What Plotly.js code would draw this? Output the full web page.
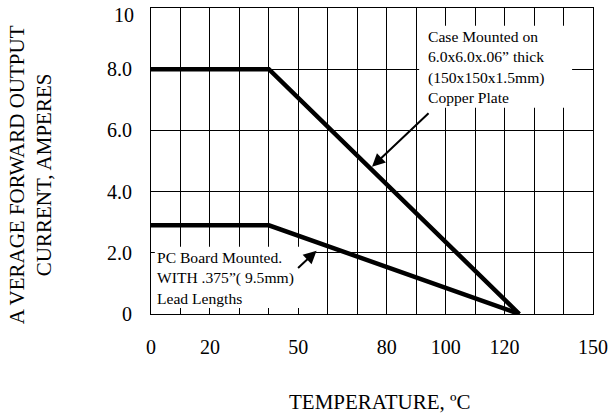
<!DOCTYPE html>
<html>
<head>
<meta charset="utf-8">
<script src="https://cdn.plot.ly/plotly-3.0.1.min.js"></script>
<style>html,body{margin:0;padding:0;background:#fff;}#chart{width:608px;height:415px;}</style>
</head>
<body>
<div id="chart"></div>
<script>
// Data
const caseX = [0, 40, 125];
const caseY = [8.0, 8.0, 0];
const pcX = [0, 40, 125];
const pcY = [2.9, 2.9, 0];

const xTickVals = [0, 20, 50, 80, 100, 120, 150];
const xTickText = ['0', '20', '50', '80', '100', '120', '150'];
const yTickVals = [0, 2, 4, 6, 8, 10];
const yTickText = ['0', '2.0', '4.0', '6.0', '8.0', ''];
const yTopLabel = '10';

const caseLabel = 'Case Mounted on<br>6.0x6.0x.06\u201D thick<br>(150x150x1.5mm)<br>Copper Plate';
const pcLabel = 'PC Board Mounted.<br>WITH .375\u201D( 9.5mm)<br>Lead Lengths';
const xTitle = 'TEMPERATURE, \u00BAC';
const yTitle = 'A VERAGE FORWARD OUTPUT<br>CURRENT, AMPERES';

const FONT = 'Liberation Serif, Times New Roman, serif';

const traces = [
  {x: caseX, y: caseY, mode: 'lines', line: {color: '#000', width: 4.5}, hoverinfo: 'skip'},
  {x: pcX, y: pcY, mode: 'lines', line: {color: '#000', width: 4.5}, hoverinfo: 'skip'}
];

const layout = {
  width: 608, height: 415,
  margin: {l: 151, r: 15, t: 8, b: 101, pad: 0},
  paper_bgcolor: '#fff', plot_bgcolor: '#fff',
  showlegend: false,
  font: {family: FONT, color: '#000', size: 20},
  xaxis: {
    range: [0, 150], tickmode: 'array', tickvals: xTickVals, ticktext: xTickText,
    showgrid: true, gridcolor: '#000', gridwidth: 1,
    minor: {dtick: 10, tick0: 0, showgrid: true, gridcolor: '#000', gridwidth: 1, ticks: ''},
    zeroline: false, showline: true, mirror: true, linecolor: '#000', linewidth: 1,
    ticks: 'outside', ticklen: 15, tickcolor: 'rgba(0,0,0,0)',
    tickfont: {family: FONT, size: 20, color: '#000'}, fixedrange: true
  },
  yaxis: {
    range: [0, 10], tickmode: 'array', tickvals: yTickVals, ticktext: yTickText,
    showgrid: true, gridcolor: '#000', gridwidth: 1,
    zeroline: false, showline: true, mirror: true, linecolor: '#000', linewidth: 1,
    ticks: 'outside', ticklen: 14, tickcolor: 'rgba(0,0,0,0)',
    tickfont: {family: FONT, size: 20, color: '#000'}, fixedrange: true
  },
  shapes: [
    {type: 'rect', xref: 'x', yref: 'y', x0: 91, x1: 142.9, y0: 6.74, y1: 9.42,
     fillcolor: '#fff', line: {width: 0}, layer: 'between'},
    {type: 'rect', xref: 'x', yref: 'y', x0: 1.3, x1: 56, y0: 0.2, y1: 2.2,
     fillcolor: '#fff', line: {width: 0}, layer: 'between'}
  ],
  annotations: [
    {text: yTopLabel, xref: 'paper', yref: 'y', x: 0, xshift: -16, y: 10, yshift: -7,
     xanchor: 'right', yanchor: 'middle', showarrow: false, borderpad: 0,
     font: {family: FONT, size: 20, color: '#000'}},
    {text: caseLabel, xref: 'x', yref: 'y', x: 93.5, y: 8.08, xanchor: 'left', yanchor: 'middle',
     align: 'left', showarrow: false, borderpad: 0, font: {family: FONT, size: 15.6, color: '#000'}},
    {text: pcLabel, xref: 'x', yref: 'y', x: 1.8, y: 1.19, xanchor: 'left', yanchor: 'middle',
     align: 'left', showarrow: false, borderpad: 0, font: {family: FONT, size: 15.6, color: '#000'}},
    {text: '', xref: 'x', yref: 'y', x: 75.0, y: 4.81, axref: 'x', ayref: 'y', ax: 94.7, ay: 6.61,
     showarrow: true, arrowhead: 2, arrowsize: 1.3, arrowwidth: 2, arrowcolor: '#000', standoff: 0},
    {text: '', xref: 'x', yref: 'y', x: 56.2, y: 2.07, axref: 'x', ayref: 'y', ax: 49.4, ay: 1.46,
     showarrow: true, arrowhead: 2, arrowsize: 1.3, arrowwidth: 2, arrowcolor: '#000', standoff: 0},
    {text: xTitle, xref: 'paper', yref: 'paper', x: 0.518, y: -0.287, xanchor: 'center', yanchor: 'middle',
     showarrow: false, font: {family: FONT, size: 21, color: '#000'}},
    {text: yTitle, xref: 'paper', yref: 'paper', x: -0.2726, y: 0.4547, xanchor: 'center', yanchor: 'middle',
     textangle: -90, showarrow: false, font: {family: FONT, size: 21, color: '#000'}}
  ]
};

Plotly.newPlot('chart', traces, layout, {staticPlot: true, displayModeBar: false});
</script>
</body>
</html>
